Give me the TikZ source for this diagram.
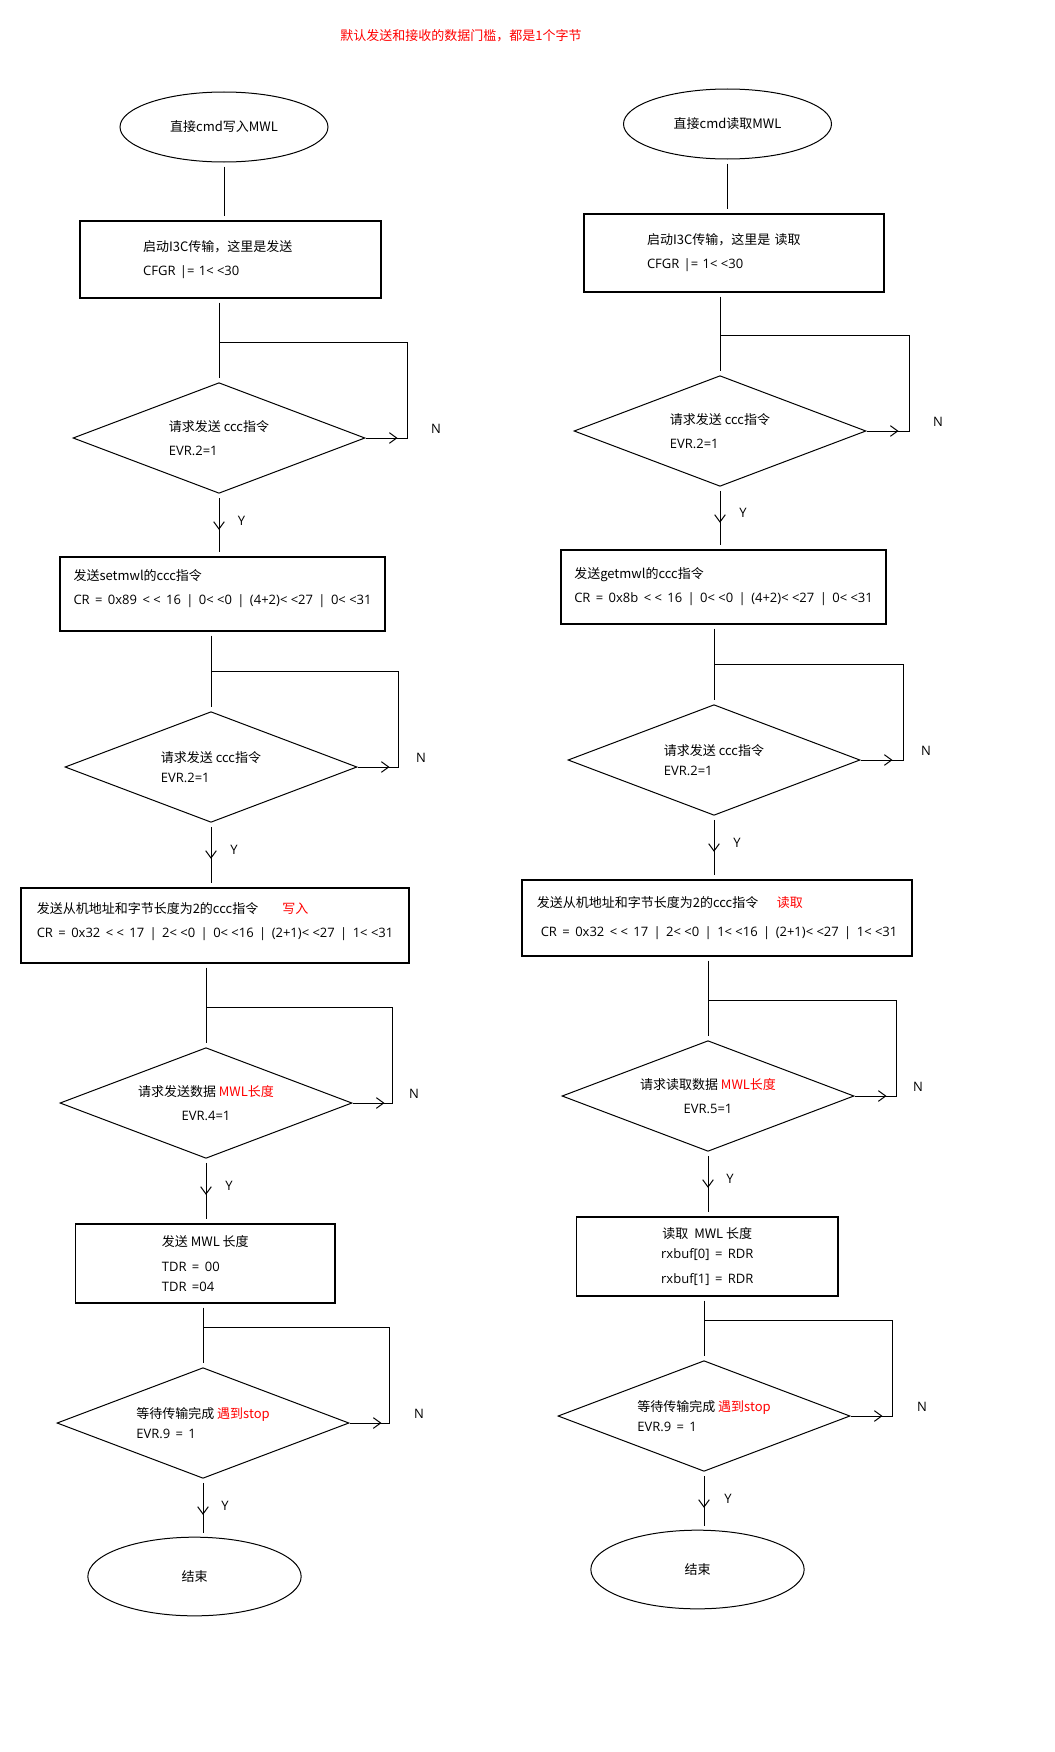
\documentclass[tikz,border=0pt]{standalone}
\usepackage{fontspec}
\setmainfont{Noto Sans CJK SC}
\newfontfamily\latfont{Open Sans}[WordSpace=1.6]
\usepackage{xcolor}
\usetikzlibrary{shapes.geometric,arrows.meta}
\usetikzlibrary{decorations.markings}

\newcommand\shl{<\kern2.5pt<}

\tikzset{
	every node/.style={font=\fontsize{9.75pt}{18pt}\selectfont},
	termnode/.style={ellipse, draw, line width=0.75pt, inner sep=0pt, minimum width=156pt, minimum height=52.5pt},
	endnode/.style={termnode, minimum width=160pt, minimum height=59pt},
	procnode/.style={rectangle, draw, line width=0.9pt, align=left},
	testnode/.style={diamond, draw, line width=0.75pt, aspect=2.6, inner sep=0pt, minimum width=219pt, minimum height=83pt, align=left},
	marklab/.style={font=\fontsize{9.75pt}{18pt}\latfont},
	flowline/.style={line width=0.75pt, shorten <=3pt, shorten >=3pt},
	yesline/.style={flowline, postaction={decorate}, decoration={markings, mark=at position 27pt with {\arrow{>}}}},
	noloop/.style={line width=0.75pt, postaction={decorate}, decoration={markings, mark=at position 24pt with {\arrow{>}}}},
	>={Straight Barb[length=5.5pt, width=8pt]},
}

\begin{document}
\begin{tikzpicture}[x=0.75pt, y=-0.75pt]
	\useasboundingbox (0,0) rectangle (1055,1752);
	\node[text=red] (title) at (461,36) {默认发送和接收的数据门槛，都是1个字节};
	
	% write MWL
	\node[termnode] (s1) at (224,127) {直接cmd写入MWL};
	\node[procnode, text width=131pt, minimum width=225.75pt, minimum height=57.75pt] (b1) at (230.5,259.5) {启动I3C传输，这里是发送\\\latfont CFGR |= 1\shl30};
	\node[testnode] (d1) at (219,438) {请求发送 ccc指令\\\latfont EVR.2=1};
	\node[procnode, minimum width=243.75pt, minimum height=55.5pt] (b2) at (222.5,594) {发送setmwl的ccc指令\\\latfont CR = 0x89 \shl{} 16 | 0\shl0 | (4+2)\shl27 | 0\shl31\\[-8pt]\mbox{}};
	\node[testnode] (d2) at (211,767) {请求发送 ccc指令\\[-3pt]\latfont EVR.2=1};
	\node[procnode, minimum width=291pt, minimum height=56.25pt] (b3) at (215,925.5) {发送从机地址和字节长度为2的ccc指令\hspace{18pt}\textcolor{red}{写入}\\\latfont CR = 0x32 \shl{} 17 | 2\shl0 | 0\shl16 | (2+1)\shl27 | 1\shl31\\[-10pt]\mbox{}};
	\node[testnode, align=center] (d3) at (206,1103) {请求发送数据 \textcolor{red}{MWL长度}\\\latfont EVR.4=1};
	\node[procnode, minimum width=194.5pt, minimum height=59.25pt] (b4) at (205.3,1263.5) {发送 MWL 长度\\[1pt]\latfont TDR = 00\\[-3pt]\latfont TDR =04};
	\node[testnode] (d4) at (203,1423) {等待传输完成 \textcolor{red}{遇到stop}\\[-3pt]\latfont EVR.9 = 1};
	\node[endnode] (e1) at (194.5,1576.5) {结束};
	
	\coordinate (k1) at (407,342);
	\coordinate (k2) at (398,671);
	\coordinate (k3) at (392,1007);
	\coordinate (k4) at (389.5,1327);
	
	\draw[flowline] (s1.south) -- (s1.south |- b1.north);
	\draw[flowline] (d1.north |- b1.south) -- (d1.north);
	\draw[noloop] (d1.east) -| (k1) -- (k1 -| d1.north);
	\draw[yesline] (d1.south) -- (d1.south |- b2.north);
	\draw[flowline] (d2.north |- b2.south) -- (d2.north);
	\draw[noloop] (d2.east) -| (k2) -- (k2 -| d2.north);
	\draw[yesline] (d2.south) -- (d2.south |- b3.north);
	\draw[flowline] (d3.north |- b3.south) -- (d3.north);
	\draw[noloop] (d3.east) -| (k3) -- (k3 -| d3.north);
	\draw[yesline] (d3.south) -- (d3.south |- b4.north);
	\draw[flowline] (d4.north |- b4.south) -- (d4.north);
	\draw[noloop] (d4.east) -| (k4) -- (k4 -| d4.north);
	\draw[yesline] (d4.south) -- (d4.south |- e1.north);
	
	\node[marklab] (n1) at (436,429) {N};
	\node[marklab] (n2) at (421,758) {N};
	\node[marklab] (n3) at (414,1094) {N};
	\node[marklab] (n4) at (419,1414) {N};
	\node[marklab] (y1) at (241.5,521) {Y};
	\node[marklab] (y2) at (234,850) {Y};
	\node[marklab] (y3) at (229,1186) {Y};
	\node[marklab] (y4) at (225,1506) {Y};
	
	% read MWL
	\node[termnode] (s2) at (727.5,124) {直接cmd读取MWL};
	\node[procnode, text width=130.5pt, minimum width=225pt, minimum height=58.5pt] (c1) at (734,253) {启动I3C传输，这里是 读取\\\latfont CFGR |= 1\shl30};
	\node[testnode] (d5) at (720,431) {请求发送 ccc指令\\\latfont EVR.2=1};
	\node[procnode, minimum width=243.75pt, minimum height=55.5pt] (c2) at (723.5,587) {发送getmwl的ccc指令\\\latfont CR = 0x8b \shl{} 16 | 0\shl0 | (4+2)\shl27 | 0\shl31};
	\node[testnode] (d6) at (714,760) {请求发送 ccc指令\\[-3pt]\latfont EVR.2=1};
	\node[procnode, minimum width=292.5pt, minimum height=57pt] (c3) at (717,918) {发送从机地址和字节长度为2的ccc指令\hspace{14pt}\textcolor{red}{读取}\\[4pt]\hspace{3pt}\latfont CR = 0x32 \shl{} 17 | 2\shl0 | 1\shl16 | (2+1)\shl27 | 1\shl31};
	\node[testnode, align=center] (d7) at (708,1096) {请求读取数据 \textcolor{red}{MWL长度}\\\latfont EVR.5=1};
	\node[procnode, align=center, minimum width=196pt, minimum height=59.25pt] (c4) at (707.3,1256.5) {读取\ \ MWL 长度\\[-3pt]\latfont rxbuf[0] = RDR\\[1pt]\latfont rxbuf[1] = RDR};
	\node[testnode] (d8) at (704,1416) {等待传输完成 \textcolor{red}{遇到stop}\\[-3pt]\latfont EVR.9 = 1};
	\node[endnode] (e2) at (697.5,1569.5) {结束};
	
	\coordinate (k5) at (909,335);
	\coordinate (k6) at (903,664);
	\coordinate (k7) at (896.5,1000);
	\coordinate (k8) at (892.5,1320);
	
	\draw[flowline] (s2.south) -- (s2.south |- c1.north);
	\draw[flowline] (d5.north |- c1.south) -- (d5.north);
	\draw[noloop] (d5.east) -| (k5) -- (k5 -| d5.north);
	\draw[yesline] (d5.south) -- (d5.south |- c2.north);
	\draw[flowline] (d6.north |- c2.south) -- (d6.north);
	\draw[noloop] (d6.east) -| (k6) -- (k6 -| d6.north);
	\draw[yesline] (d6.south) -- (d6.south |- c3.north);
	\draw[flowline] (d7.north |- c3.south) -- (d7.north);
	\draw[noloop] (d7.east) -| (k7) -- (k7 -| d7.north);
	\draw[yesline] (d7.south) -- (d7.south |- c4.north);
	\draw[flowline] (d8.north |- c4.south) -- (d8.north);
	\draw[noloop] (d8.east) -| (k8) -- (k8 -| d8.north);
	\draw[yesline] (d8.south) -- (d8.south |- e2.north);
	
	\node[marklab] (n5) at (938,422) {N};
	\node[marklab] (n6) at (926,751) {N};
	\node[marklab] (n7) at (918,1087) {N};
	\node[marklab] (n8) at (922,1407) {N};
	\node[marklab] (y5) at (743,513) {Y};
	\node[marklab] (y6) at (737,843) {Y};
	\node[marklab] (y7) at (730,1179) {Y};
	\node[marklab] (y8) at (728,1499) {Y};
\end{tikzpicture}
\end{document}
